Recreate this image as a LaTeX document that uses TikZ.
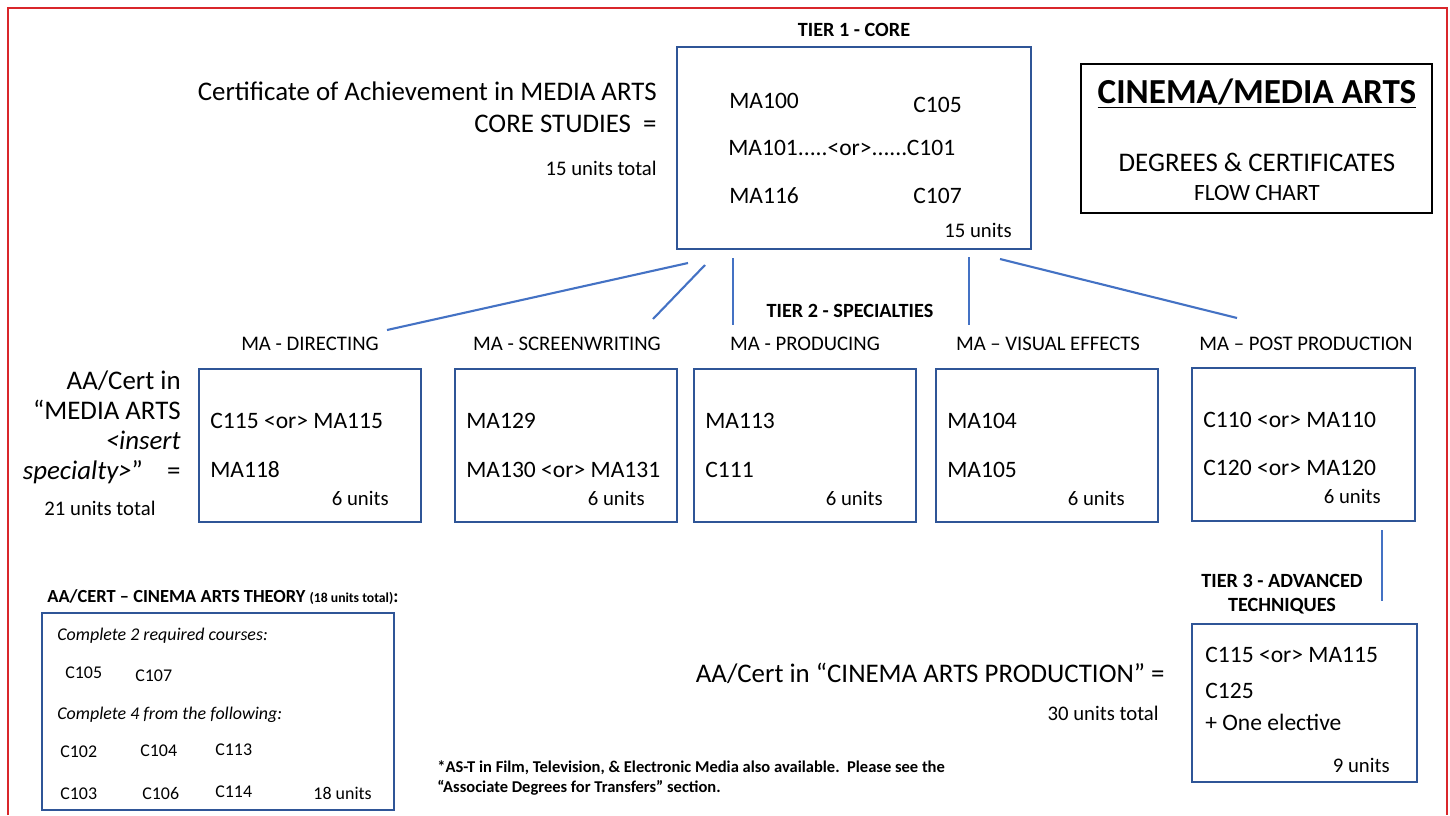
\documentclass[tikz,border=0pt]{standalone}
\usepackage{fontspec}
\setmainfont{Carlito}
\usepackage{xcolor}
\usepackage{tikz}
\usetikzlibrary{positioning,fit}

\definecolor{framered}{HTML}{D9262B}
\definecolor{boxblue}{HTML}{2F5597}
\definecolor{linkblue}{HTML}{4472C4}

\newcommand{\fsBig}{\fontsize{15.3}{18}\selectfont}
\newcommand{\fsCourse}{\fontsize{13.4}{16}\selectfont}
\newcommand{\fsLabel}{\fontsize{11.8}{14}\selectfont}
\newcommand{\fsTier}{\fontsize{11.5}{14}\selectfont\bfseries}
\newcommand{\fsTitle}{\fontsize{20}{24}\selectfont\bfseries}
\newcommand{\fsSub}{\fontsize{15.3}{18}\selectfont}
\newcommand{\fsFlow}{\fontsize{13.3}{16}\selectfont}
\newcommand{\fsTheory}{\fontsize{10.2}{12}\selectfont}
\newcommand{\fsNote}{\fontsize{9.4}{11}\selectfont\bfseries}

\begin{document}
\begin{tikzpicture}[x=0.02cm, y=-0.02cm]
        \tikzset{box/.style={draw=boxblue, line width=0.9pt, inner sep=0pt}}
        \tikzset{link/.style={draw=linkblue, line width=1.2pt}}
        \tikzset{txt/.style={inner sep=0pt, anchor=base west}}
        \tikzset{rtxt/.style={inner sep=0pt, anchor=base east}}
        \tikzset{ctxt/.style={inner sep=0pt, anchor=base}}
        \useasboundingbox (0,0) rectangle (1450,815);

        % Page frame (open at the bottom)
        \draw [framered, line width=1.6pt] (8,815) -- (8,8) -- (1447,8) -- (1447,815);

        % Tier 1 - core
        \node [ctxt, font=\fsTier] (tier1) at (854,36) {TIER 1 - CORE};
        \node [box, fit={(677,47) (1031,249)}] (core) {};
        \node [txt, font=\fsCourse] (ma100) at (729,108) {MA100};
        \node [txt, font=\fsCourse] (c105) at (913,112) {C105};
        \node [txt, font=\fsCourse] (ma101) at (728,155) {MA101.....<or>......C101};
        \node [txt, font=\fsCourse] (ma116) at (729,203) {MA116};
        \node [txt, font=\fsCourse] (c107) at (913,203) {C107};
        \node [rtxt, font=\fsLabel] (coreunits) at (1012,237) {15 units};

        \node [rtxt, font=\fsBig] (cert1) at (657,100) {Certificate of Achievement in MEDIA ARTS};
        \node [rtxt, font=\fsBig] (cert2) at (657,132) {CORE STUDIES\ \ =};
        \node [rtxt, font=\fsLabel] (cert3) at (657,175) {15 units total};

        % Title
        \node [draw=black, line width=0.9pt, inner sep=0pt, fit={(1081,64) (1432,213)}] (title) {};
        \node [ctxt, font=\fsTitle] (title1) at (1257,103) {\underline{CINEMA/MEDIA ARTS}};
        \node [ctxt, font=\fsSub] (title2) at (1257,171) {DEGREES \& CERTIFICATES};
        \node [ctxt, font=\fsFlow] (title3) at (1257,200) {FLOW CHART};

        % Links from the core
        \coordinate (dirFrom) at (688,263);  \coordinate (dirTo) at (387,330);
        \coordinate (scrFrom) at (705,265);  \coordinate (scrTo) at (653,319);
        \coordinate (prodFrom) at (733,258); \coordinate (prodTo) at (733,325);
        \coordinate (vfxFrom) at (969,257);  \coordinate (vfxTo) at (969,325);
        \coordinate (postFrom) at (1000,259); \coordinate (postTo) at (1237,318);
        \draw [link] (dirFrom) -- (dirTo);
        \draw [link] (scrFrom) -- (scrTo);
        \draw [link] (prodFrom) -- (prodTo);
        \draw [link] (vfxFrom) -- (vfxTo);
        \draw [link] (postFrom) -- (postTo);

        % Tier 2 - specialties
        \node [ctxt, font=\fsTier] (tier2) at (850,317) {TIER 2 - SPECIALTIES};
        \node [ctxt, font=\fsLabel] (dirlbl) at (310,350) {MA - DIRECTING};
        \node [ctxt, font=\fsLabel] (scrlbl) at (567,350) {MA - SCREENWRITING};
        \node [ctxt, font=\fsLabel] (prodlbl) at (805,350) {MA - PRODUCING};
        \node [ctxt, font=\fsLabel] (vfxlbl) at (1048,350) {MA – VISUAL EFFECTS};
        \node [ctxt, font=\fsLabel] (postlbl) at (1306,350) {MA – POST PRODUCTION};

        \node [box, fit={(199,369) (421,522)}] (dir) {};
        \node [txt, font=\fsCourse] at (210,428) {C115 <or> MA115};
        \node [txt, font=\fsCourse] at (210,477) {MA118};
        \node [rtxt, font=\fsLabel] at (389,505) {6 units};

        \node [box, fit={(455,369) (677,522)}] (scr) {};
        \node [txt, font=\fsCourse] at (466,428) {MA129};
        \node [txt, font=\fsCourse] at (466,477) {MA130 <or> MA131};
        \node [rtxt, font=\fsLabel] at (645,505) {6 units};

        \node [box, fit={(694,369) (916,522)}] (prod) {};
        \node [txt, font=\fsCourse] at (705,428) {MA113};
        \node [txt, font=\fsCourse] at (705,477) {C111};
        \node [rtxt, font=\fsLabel] at (883,505) {6 units};

        \node [box, fit={(936,369) (1158,522)}] (vfx) {};
        \node [txt, font=\fsCourse] at (947,428) {MA104};
        \node [txt, font=\fsCourse] at (947,477) {MA105};
        \node [rtxt, font=\fsLabel] at (1125,505) {6 units};

        \node [box, fit={(1192,368) (1415,521)}] (post) {};
        \node [txt, font=\fsCourse] at (1203,427) {C110 <or> MA110};
        \node [txt, font=\fsCourse] at (1203,475) {C120 <or> MA120};
        \node [rtxt, font=\fsLabel] at (1381,503) {6 units};

        \node [rtxt, font=\fsBig] (aa1) at (181,389) {AA/Cert in};
        \node [rtxt, font=\fsBig] (aa2) at (181,419) {“MEDIA ARTS};
        \node [rtxt, font=\fsBig] (aa3) at (181,449) {\itshape <insert};
        \node [rtxt, font=\fsBig] (aa4) at (181,479) {\textit{specialty>}”\ \ \ \ =};
        \node [ctxt, font=\fsLabel] (aa5) at (100,515) {21 units total};

        % Tier 3 - advanced techniques
        \coordinate (advFrom) at (1382,530); \coordinate (advTo) at (1382,601);
        \draw [link] (advFrom) -- (advTo);
        \node [ctxt, font=\fsTier] (tier3a) at (1282,587) {TIER 3 - ADVANCED};
        \node [ctxt, font=\fsTier] (tier3b) at (1282,611) {TECHNIQUES};
        \node [box, fit={(1192,624) (1417,782)}] (adv) {};
        \node [txt, font=\fsCourse] at (1205,662) {C115 <or> MA115};
        \node [txt, font=\fsCourse] at (1205,698) {C125};
        \node [txt, font=\fsCourse] at (1205,730) {+ One elective};
        \node [rtxt, font=\fsLabel] at (1390,772) {9 units};

        \node [rtxt, font=\fsBig] (prodcert) at (1165,682) {AA/Cert in “CINEMA ARTS PRODUCTION” =};
        \node [rtxt, font=\fsLabel] (produnits) at (1159,720) {30 units total};

        % Cinema arts theory
        \node [txt, font=\fontsize{10.5}{12}\selectfont\bfseries] (thyhead) at (47,602) {AA/CERT – CINEMA ARTS THEORY {\fontsize{7.8}{9}\selectfont (18 units total)}:};
        \node [box, fit={(42,613) (394,810)}] (thy) {};
        \node [txt, font=\fsTheory\itshape] at (57,640) {Complete 2 required courses:};
        \node [txt, font=\fsTheory] at (65,678) {C105};
        \node [txt, font=\fsTheory] at (135,681) {C107};
        \node [txt, font=\fsTheory\itshape] at (57,719) {Complete 4 from the following:};
        \node [txt, font=\fsTheory] at (60,757) {C102};
        \node [txt, font=\fsTheory] at (140,756) {C104};
        \node [txt, font=\fsTheory] at (215,755) {C113};
        \node [txt, font=\fsTheory] at (60,799) {C103};
        \node [txt, font=\fsTheory] at (142,799) {C106};
        \node [txt, font=\fsTheory] at (215,797) {C114};
        \node [rtxt, font=\fsTheory] at (372,799) {18 units};

        % Footnote
        \node [txt, font=\fsNote] (note1) at (437,772) {*AS-T in Film, Television, \& Electronic Media also available.\ \ Please see the};
        \node [txt, font=\fsNote] (note2) at (437,792) {“Associate Degrees for Transfers” section.};
    \end{tikzpicture}
\end{document}
